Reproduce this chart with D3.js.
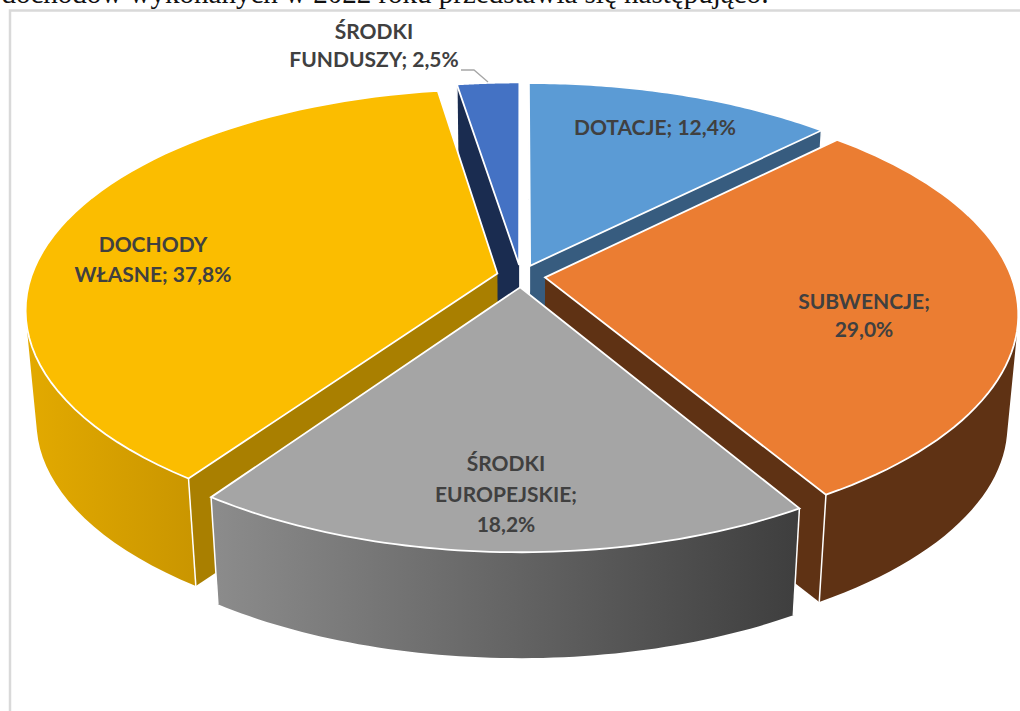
<!DOCTYPE html>
<html>
<head>
<meta charset="utf-8">
<script src="https://cdn.jsdelivr.net/npm/d3@7"></script>
<style>
  body { margin: 0; background: #fff; }
  svg { display: block; }
  .label { font-family: Lato, "Open Sans", sans-serif; font-weight: 700; font-size: 21px; fill: #404040; text-anchor: middle; }
</style>
</head>
<body>
<svg width="1020" height="711"></svg>
<script>
// order is clockwise from 12 o'clock
const categories = ["DOTACJE", "SUBWENCJE", "ŚRODKI EUROPEJSKIE", "DOCHODY WŁASNE", "ŚRODKI FUNDUSZY"];
const shares = [12.4, 29.0, 18.2, 37.8, 2.5];
const labelLines = [
  ["DOTACJE; 12,4%"],
  ["SUBWENCJE;", "29,0%"],
  ["ŚRODKI", "EUROPEJSKIE;", "18,2%"],
  ["DOCHODY", "WŁASNE; 37,8%"],
  ["ŚRODKI", "FUNDUSZY; 2,5%"],
];

const topColors = ["#5b9bd5", "#eb7d32", "#a5a5a5", "#fbbd00", "#4472c4"];
const sideColors = ["#375c7f", "#5f3214", "#555555", "#a97f00", "#1a2c50"];
const wallStops = [
  ["#375c7f", "#375c7f"],
  ["#5f3214", "#5f3214"],
  ["#8c8c8c", "#3e3e3e"],
  ["#e3aa00", "#c49100"],
  ["#1a2c50", "#1a2c50"],
];
// label anchors: [center x, first baseline, line step]
const labelPos = [
  [655, 135, 28],
  [864, 309, 28],
  [506, 471, 30.5],
  [153, 252, 30],
  [374, 39, 28],
];
// painter's order, back to front
const drawOrder = [4, 0, 3, 1, 2];

const cx = 521, cy = 276;
const rx = 466, ry = 215;
const tilt = 0.16;      // perspective
const frontBulge = 0.015;
const explode = 0.052;
const shrink = 0.978;   // bottom face is further from camera
const depth = 112;

const svg = d3.select("svg");
const defs = svg.append("defs");

const xScale = d3.scaleLinear().domain([-1, 1]).range([cx - rx, cx + rx]);
const yScale = d3.scaleLinear().domain([-1, 1]).range([cy + ry, cy - ry]);

const project = (angle, radius, mid) => {
  const X = radius * Math.sin(angle) + explode * Math.sin(mid);
  const Y = radius * Math.cos(angle) + explode * Math.cos(mid);
  const w = 1 + tilt * Y;
  const bulge = Y < 0 ? 1 - frontBulge * Y : 1;
  return [xScale(X / w), yScale(Y * bulge / w)];
};
const lower = ([x, y]) => [cx + (x - cx) * shrink, cy + (y - cy) * shrink + depth];

const line = d3.line();

// all quads wound the same way, so nonzero fill keeps the whole band
const wallPath = (pts) => d3.pairs(pts).map(([p, q]) => {
  const quad = [p, q, lower(q), lower(p)];
  return line(d3.polygonArea(quad) < 0 ? quad.reverse() : quad) + "Z";
}).join("");

// a radial wall shows only if "down" points away from the slice,
// near vertical edges have no visible wall
const sideOf = (a, b, c) => (b[0] - a[0]) * (c[1] - a[1]) - (b[1] - a[1]) * (c[0] - a[0]);
const wallVisible = (tip, corner, inner) =>
  Math.abs(corner[0] - tip[0]) > 5 &&
  sideOf(tip, corner, [tip[0], tip[1] + 1]) * sideOf(tip, corner, inner) < 0;

const pie = d3.pie().sort(null).value((d) => d).startAngle(0).endAngle(2 * Math.PI);
const slices = pie(shares);

// page text clipped by the crop, above the chart frame
svg.append("text")
  .attr("x", 769)
  .attr("y", 3)
  .attr("text-anchor", "end")
  .attr("font-family", "Liberation Serif")
  .attr("font-size", 29)
  .attr("fill", "#111")
  .text("dochodów wykonanych w 2022 roku przedstawia się następująco:");

// chart frame
svg.append("path")
  .attr("d", "M10,711V10.5H1020")
  .attr("fill", "none")
  .attr("stroke", "#d9d9d9")
  .attr("stroke-width", 2.5);

const g = svg.append("g");

drawOrder.forEach((i) => {
  const d = slices[i];
  const mid = (d.startAngle + d.endAngle) / 2;
  const steps = d3.range(0, 61).map((k) => d.startAngle + (d.endAngle - d.startAngle) * k / 60);
  const arcPts = steps.map((a) => project(a, 1, mid));
  const tip = project(0, 0, mid);
  const midPt = project(mid, 1, mid);
  const group = g.append("g").attr("class", "slice").attr("data-name", categories[i]);

  // outer wall
  const xs = d3.extent(arcPts, (p) => p[0]);
  const gradId = "wall" + i;
  const grad = defs.append("linearGradient")
    .attr("id", gradId)
    .attr("gradientUnits", "userSpaceOnUse")
    .attr("x1", xs[0]).attr("x2", xs[1]).attr("y1", 0).attr("y2", 0);
  grad.append("stop").attr("offset", 0).attr("stop-color", wallStops[i][0]);
  grad.append("stop").attr("offset", i === 3 ? 0.5 : 1).attr("stop-color", wallStops[i][1]);
  group.append("path")
    .attr("d", wallPath(arcPts))
    .attr("fill", "url(#" + gradId + ")");

  // radial walls
  [arcPts[0], arcPts[arcPts.length - 1]].forEach((corner) => {
    if (!wallVisible(tip, corner, midPt)) return;
    group.append("path")
      .attr("d", line([tip, corner, lower(corner), lower(tip)]) + "Z")
      .attr("fill", sideColors[i]);
  });

  // white edge down each outer corner
  [arcPts[0], arcPts[arcPts.length - 1]].forEach((corner) => {
    group.append("path")
      .attr("d", line([corner, lower(corner)]))
      .attr("stroke", "#fff")
      .attr("stroke-width", 1.5);
  });

  // top face
  group.append("path")
    .attr("d", line([tip].concat(arcPts)) + "Z")
    .attr("fill", topColors[i])
    .attr("stroke", "#fff")
    .attr("stroke-width", 1.8);
});

// leader for the small slice
svg.append("path")
  .attr("d", "M461,70H474L488,82")
  .attr("fill", "none")
  .attr("stroke", "#a6a6a6")
  .attr("stroke-width", 1.3);

// labels
labelLines.forEach((lines, i) => {
  const [x, y, step] = labelPos[i];
  lines.forEach((t, k) => {
    svg.append("text")
      .attr("class", "label")
      .attr("x", x)
      .attr("y", y + k * step)
      .text(t);
  });
});
</script>
</body>
</html>
